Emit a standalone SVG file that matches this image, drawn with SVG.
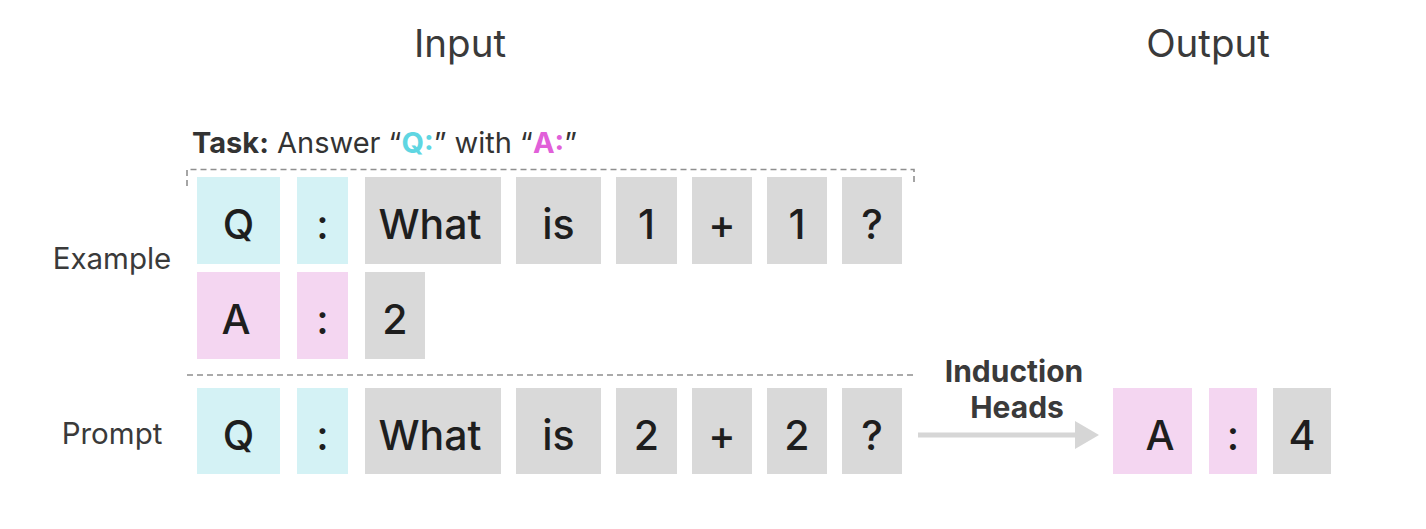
<svg xmlns="http://www.w3.org/2000/svg" width="1426" height="529" viewBox="0 0 1426 529">
<style>
.tk{font-family:Inter,"Noto Sans",sans-serif;font-size:41px;font-weight:500;fill:#1e1e1e;text-anchor:middle}
.lb{font-family:Inter,"Noto Sans",sans-serif;font-size:29.5px;fill:#3a3a3a;text-anchor:middle}
.hd{font-family:Inter,"Noto Sans",sans-serif;font-size:38.5px;fill:#3a3a3a;text-anchor:middle;font-weight:400}
.ih{font-family:Inter,"Noto Sans",sans-serif;font-size:30px;font-weight:700;fill:#3a3a3a;text-anchor:middle}
.c{fill:#d4f2f5}.p{fill:#f4d6f1}.g{fill:#d9d9d9}
.dash{fill:none;stroke:#8f8f8f;stroke-width:1.6;stroke-dasharray:6 4}
</style>
<defs>
<marker id="ah" markerWidth="24" markerHeight="28" refX="0" refY="14" orient="auto" markerUnits="userSpaceOnUse">
<path d="M0,0 L24,14 L0,28 Z" fill="#d6d6d6"/>
</marker>
</defs>
<g id="headers">
<text class="hd" x="460" y="57">Input</text>
<text class="hd" x="1208" y="57">Output</text>
</g>
<g id="labels">
<text class="lb" x="112" y="269">Example</text>
<text class="lb" x="112" y="444">Prompt</text>
</g>
<g id="task">
<text x="192" y="153" style="font-family:Inter,'Noto Sans',sans-serif;font-size:29px;fill:#333"><tspan font-weight="700">Task:</tspan> Answer “<tspan font-weight="700" fill="#5fd6e2">Q:</tspan>” with “<tspan font-weight="700" fill="#e160d9">A:</tspan>”</text>
</g>
<g id="separators">
<path class="dash" d="M187,186 V169.5 H914 V186"/>
<path class="dash" d="M187,375 H915"/>
</g>
<g id="example-q">
<rect class="c" x="197" y="177" width="83" height="87"/><text class="tk" x="238.5" y="239">Q</text>
<rect class="c" x="297" y="177" width="51" height="87"/><text class="tk" x="322.5" y="239">:</text>
<rect class="g" x="365" y="177" width="136" height="87"/><text class="tk" x="430" y="239">What</text>
<rect class="g" x="516" y="177" width="85" height="87"/><text class="tk" x="558.5" y="239">is</text>
<rect class="g" x="616" y="177" width="61" height="87"/><text class="tk" x="646.5" y="239">1</text>
<rect class="g" x="692" y="177" width="60" height="87"/><text class="tk" x="722" y="239">+</text>
<rect class="g" x="767" y="177" width="60" height="87"/><text class="tk" x="797" y="239">1</text>
<rect class="g" x="842" y="177" width="60" height="87"/><text class="tk" x="872" y="239">?</text>
</g>
<g id="example-a">
<rect class="p" x="197" y="272" width="83" height="87"/><text class="tk" x="236" y="334">A</text>
<rect class="p" x="297" y="272" width="51" height="87"/><text class="tk" x="322.5" y="334">:</text>
<rect class="g" x="365" y="272" width="60" height="87"/><text class="tk" x="395" y="334">2</text>
</g>
<g id="prompt">
<rect class="c" x="197" y="388" width="83" height="86"/><text class="tk" x="238.5" y="450">Q</text>
<rect class="c" x="297" y="388" width="51" height="86"/><text class="tk" x="322.5" y="450">:</text>
<rect class="g" x="365" y="388" width="136" height="86"/><text class="tk" x="430" y="450">What</text>
<rect class="g" x="516" y="388" width="85" height="86"/><text class="tk" x="558.5" y="450">is</text>
<rect class="g" x="616" y="388" width="61" height="86"/><text class="tk" x="646.5" y="450">2</text>
<rect class="g" x="692" y="388" width="60" height="86"/><text class="tk" x="722" y="450">+</text>
<rect class="g" x="767" y="388" width="60" height="86"/><text class="tk" x="797" y="450">2</text>
<rect class="g" x="842" y="388" width="60" height="86"/><text class="tk" x="872" y="450">?</text>
</g>
<g id="output">
<rect class="p" x="1113" y="388" width="79" height="86"/><text class="tk" x="1160" y="450">A</text>
<rect class="p" x="1209" y="388" width="48" height="86"/><text class="tk" x="1233" y="450">:</text>
<rect class="g" x="1273" y="388" width="58" height="86"/><text class="tk" x="1302" y="450">4</text>
</g>
<g id="connectors">
<line x1="918" y1="435" x2="1075" y2="435" stroke="#d6d6d6" stroke-width="5" marker-end="url(#ah)"/>
<text class="ih" x="1014" y="382">Induction</text>
<text class="ih" x="1017" y="418">Heads</text>
</g>
</svg>
